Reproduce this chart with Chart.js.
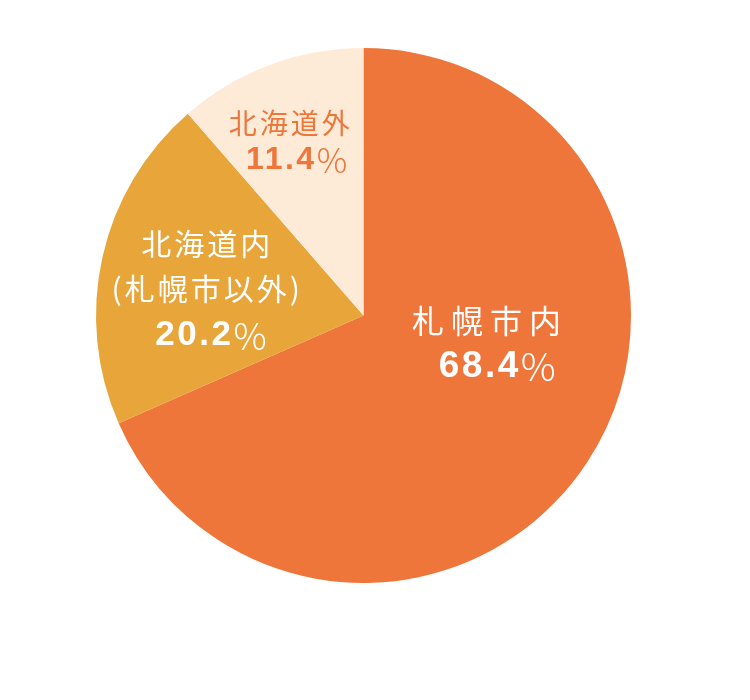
<!DOCTYPE html>
<html><head><meta charset="utf-8">
<script src="https://cdn.jsdelivr.net/npm/chart.js@4/dist/chart.umd.min.js"></script>
<style>html,body{margin:0;padding:0;background:#fff}#wrap{width:750px;height:700px}</style>
</head><body><div id="wrap"><canvas id="c" width="750" height="700"></canvas></div>
<script>
const categories = ['札幌市内', '北海道内\n(札幌市以外)', '北海道外'];
const shares = [68.4, 20.2, 11.4];
const sliceColors = ['#EE763B', '#E8A53A', '#FDEBD8'];
const labelColors = ['#FFFFFF', '#FFFFFF', '#EE763B'];
// label placement in units of pie radius relative to centre
const labelPlace = [
  {name: [0.46, 0.02], value: [0.50, 0.19], nameSize: 32, valueSize: 37, nameGap: 7, lineH: 45},
  {name: [-0.59, -0.27], value: [-0.57, 0.075], nameSize: 30, valueSize: 35, nameGap: 3, lineH: 45},
  {name: [-0.278, -0.72], value: [-0.25, -0.58], nameSize: 28, valueSize: 32, nameGap: 3, lineH: 45}
];

const labelPlugin = {
  id: 'pieLabels',
  afterDatasetsDraw(chart) {
    const ctx = chart.ctx;
    const meta = chart.getDatasetMeta(0);
    meta.data.forEach((arc, i) => {
      const cx = arc.x, cy = arc.y, r = arc.outerRadius;
      const p = labelPlace[i];
      ctx.save();
      ctx.fillStyle = labelColors[i];
      ctx.textAlign = 'center';
      ctx.textBaseline = 'middle';
      const lines = categories[i].split('\n');
      ctx.font = '400 ' + p.nameSize + 'px "Noto Sans CJK JP"';
      ctx.letterSpacing = p.nameGap + 'px';
      lines.forEach((ln, k) => {
        ctx.fillText(ln, cx + p.name[0] * r + p.nameGap / 2, cy + p.name[1] * r + k * p.lineH);
      });
      const num = shares[i].toFixed(1);
      const numFont = 'bold ' + p.valueSize + 'px "Liberation Sans"';
      const pctFont = '300 ' + Math.round(p.valueSize * 1.05) + 'px "Noto Sans CJK JP"';
      ctx.letterSpacing = '2.5px';
      ctx.font = numFont;
      const wNum = ctx.measureText(num).width;
      ctx.letterSpacing = '0px';
      ctx.font = pctFont;
      const wPct = ctx.measureText('%').width;
      const total = wNum + wPct;
      const vx = cx + p.value[0] * r - total / 2;
      const vy = cy + p.value[1] * r;
      ctx.textAlign = 'left';
      ctx.letterSpacing = '2.5px';
      ctx.font = numFont;
      ctx.fillText(num, vx, vy);
      ctx.letterSpacing = '0px';
      ctx.font = pctFont;
      ctx.fillText('%', vx + wNum, vy);
      ctx.restore();
    });
  }
};

new Chart(document.getElementById('c'), {
  type: 'pie',
  data: {
    labels: categories,
    datasets: [{ data: shares, backgroundColor: sliceColors, borderWidth: 0 }]
  },
  options: {
    responsive: false,
    animation: false,
    layout: { padding: { left: 96, right: 119, top: 48, bottom: 117 } },
    plugins: { legend: { display: false }, tooltip: { enabled: false } }
  },
  plugins: [labelPlugin]
});
</script></body></html>
